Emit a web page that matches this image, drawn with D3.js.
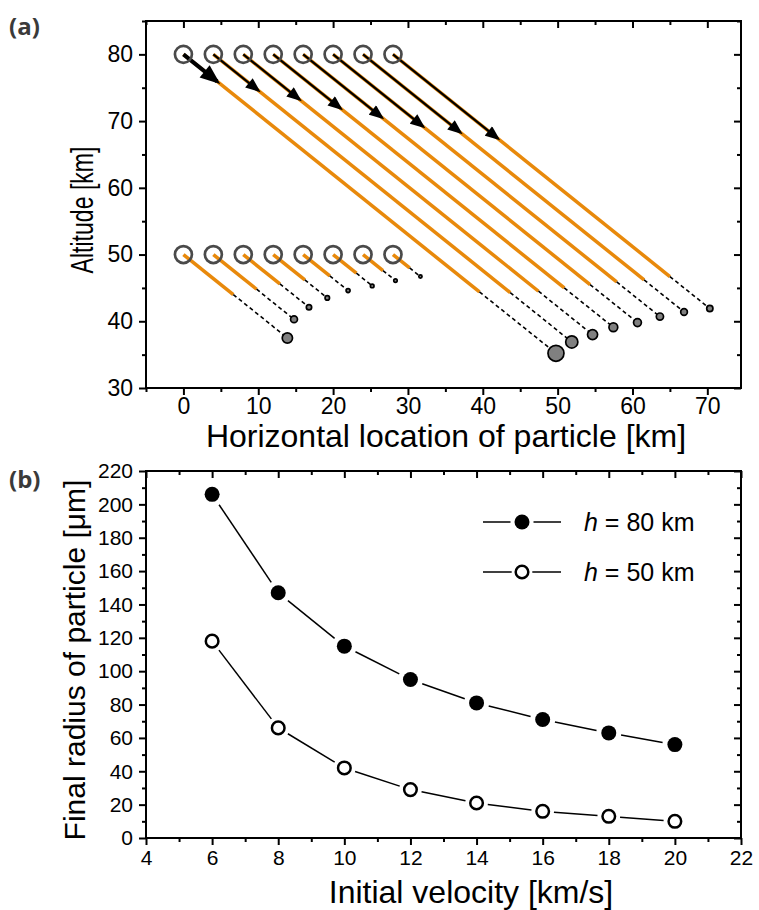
<!DOCTYPE html>
<html>
<head>
<meta charset="utf-8">
<script src="https://cdn.jsdelivr.net/npm/d3@7"></script>
<style>
body{margin:0;background:#fff;}
text{font-family:"Liberation Sans",Arial,sans-serif;fill:#000;}
</style>
</head>
<body>
<div id="chart"></div>
<script>
// panel (a): particle start positions [km] and entry velocities [km/s]
let start_x=[0,4,8,12,16,20,24,28];
let velocity=[6,8,10,12,14,16,18,20];
// horizontal length of the velocity arrows [km]
let arrow_len=[4.5,6.0,7.5,9.0,10.5,12.0,13.0,14.0];
// altitude where the orange part ends and where the particle stops [km]
let burn_end_80=[44.4,44.3,44.5,45.0,45.5,45.9,46.2,46.7];
let final_alt_80=[35.2,36.9,38.0,39.1,39.8,40.7,41.4,41.9];
let burn_end_50=[44.0,44.8,45.6,46.2,46.8,47.2,47.6,48.0];
let final_alt_50=[37.5,40.3,42.1,43.5,44.6,45.3,46.1,46.7];
let descent=0.9; // km of altitude lost per km horizontal
let start_alts=[80,50];

// panel (b): final radius [um]
let radius_80=[206,147,115,95,81,71,63,56];
let radius_50=[118,66,42,29,21,16,13,10];

let xticks_a=[0,10,20,30,40,50,60,70];
let yticks_a=[30,40,50,60,70,80];
let xticks_b=[4,6,8,10,12,14,16,18,20,22];
let yticks_b=[0,20,40,60,80,100,120,140,160,180,200,220];

let orange="#e8890b";

let svg=d3.select('#chart').append('svg')
    .attr('width',759).attr('height',910);

let defs=svg.append('defs');
function addHead(id,w,h){
    defs.append('marker')
        .attr('id',id)
        .attr('viewBox','0 0 10 8')
        .attr('refX',8).attr('refY',4)
        .attr('markerUnits','userSpaceOnUse')
        .attr('markerWidth',w).attr('markerHeight',h)
        .attr('orient','auto')
        .append('path').attr('d','M0,0L10,4L0,8z').attr('fill','#000');
}
addHead('head',16,12);
addHead('head_big',21,16);

function drawFrame(x,y,opt){
    let g=svg.append('g');
    let [x0,x1]=x.range(), [y0,y1]=y.range();
    // outer ticks on bottom/left, inner ticks on top/right
    let ax=[
        {gen:d3.axisBottom(x),tr:`translate(0,${y0})`,lab:true,dir:'x'},
        {gen:d3.axisBottom(x),tr:`translate(0,${y1})`,lab:false,dir:'x'},
        {gen:d3.axisLeft(y),tr:`translate(${x0},0)`,lab:true,dir:'y'},
        {gen:d3.axisLeft(y),tr:`translate(${x1},0)`,lab:false,dir:'y'}
    ];
    ax.forEach(function(a){
        let major=a.dir=='x'?opt.xt:opt.yt;
        let minor=a.dir=='x'?opt.xm:opt.ym;
        let gm=g.append('g').attr('transform',a.tr)
            .call(a.gen.tickValues(minor).tickSize(4).tickSizeOuter(0).tickFormat(''));
        gm.select('.domain').remove();
        gm.selectAll('line').attr('stroke-width',2);
        let gM=g.append('g').attr('transform',a.tr)
            .call(a.gen.tickValues(major).tickSize(7).tickSizeOuter(0)
                .tickPadding(a.dir=='x'?opt.xpad:6)
                .tickFormat(a.lab?d3.format('d'):''));
        gM.select('.domain').remove();
        gM.selectAll('line').attr('stroke-width',2);
        gM.selectAll('text').style('font-size',opt.fs+'px')
            .style('font-family','"Liberation Sans",Arial,sans-serif');
    });
    g.append('rect')
        .attr('x',x0).attr('y',y1)
        .attr('width',x1-x0).attr('height',y0-y1)
        .attr('fill','none').attr('stroke','#000').attr('stroke-width',2);
    return g;
}

function range(a,b,s){let r=[];for(let v=a;v<=b+1e-9;v+=s)r.push(v);return r;}

// ---------------- panel (a)
let xa=d3.scaleLinear().domain([-5,74.5]).range([146,741]);
let ya=d3.scaleLinear().domain([30,85]).range([388,21]);
let dot_r=d3.scaleLinear().domain([0,206]).range([1.3,8]);

drawFrame(xa,ya,{xt:xticks_a,yt:yticks_a,xm:range(-5,74,5).filter(d=>d%10!=0),
    ym:range(35,85,10),fs:23,xpad:3});

let traj=svg.append('g');

start_alts.forEach(function(h){
    let burn=h==80?burn_end_80:burn_end_50;
    let fin=h==80?final_alt_80:final_alt_50;
    let rad=h==80?radius_80:radius_50;
    let parts=start_x.map(function(x0,i){
        return {x0:x0,h:h,
            bx:x0+(h-burn[i])/descent,b:burn[i],
            fx:x0+(h-fin[i])/descent,f:fin[i],
            r:rad[i],a:arrow_len[i],i:i};
    });

    traj.selectAll('.orange'+h).data(parts).enter().append('line')
        .attr('x1',d=>xa(d.x0)).attr('y1',d=>ya(d.h))
        .attr('x2',d=>xa(d.bx)).attr('y2',d=>ya(d.b))
        .attr('stroke',orange).attr('stroke-width',3.5);

    traj.selectAll('.dash'+h).data(parts).enter().append('line')
        .attr('x1',d=>xa(d.bx)).attr('y1',d=>ya(d.b))
        .attr('x2',d=>xa(d.fx)).attr('y2',d=>ya(d.f))
        .attr('stroke','#000').attr('stroke-width',1.6)
        .attr('stroke-dasharray','4,3');

    if (h==80){
        traj.selectAll('.arrow').data(parts).enter().append('line')
            .attr('x1',d=>xa(d.x0)).attr('y1',d=>ya(d.h))
            .attr('x2',d=>xa(d.x0+d.a)).attr('y2',d=>ya(d.h-descent*d.a))
            .attr('stroke','#000')
            .attr('stroke-width',d=>d.i==0?4:2.2)
            .attr('marker-end',d=>d.i==0?'url(#head_big)':'url(#head)');
    }

    traj.selectAll('.start'+h).data(parts).enter().append('circle')
        .attr('cx',d=>xa(d.x0)).attr('cy',d=>ya(d.h))
        .attr('r',8.5)
        .attr('fill','none').attr('stroke','#4a4a4a').attr('stroke-width',2.7);

    traj.selectAll('.end'+h).data(parts).enter().append('circle')
        .attr('cx',d=>xa(d.fx)).attr('cy',d=>ya(d.f))
        .attr('r',d=>dot_r(d.r))
        .attr('fill','#808080').attr('stroke','#000').attr('stroke-width',1.7);
});

svg.append('text').attr('x',446).attr('y',447)
    .attr('text-anchor','middle').style('font-size','32px')
    .text('Horizontal location of particle [km]');
svg.append('text')
    .attr('transform','translate(93,210) rotate(-90)')
    .attr('text-anchor','middle').style('font-size','31px')
    .attr('textLength',127).attr('lengthAdjust','spacingAndGlyphs')
    .text('Altitude [km]');

// ---------------- panel (b)
let xb=d3.scaleLinear().domain([4,22]).range([146,741]);
let yb=d3.scaleLinear().domain([0,220]).range([838,471]);

drawFrame(xb,yb,{xt:xticks_b,yt:yticks_b,xm:range(5,21,2),ym:range(10,210,20),fs:21,xpad:5});

let series=[
    {vals:radius_80,fill:'#000',r:7.5,sw:0,label:'80'},
    {vals:radius_50,fill:'#fff',r:6.3,sw:2.5,label:'50'}
];

function gapSegments(pts,gap){
    let segs=[];
    for(let i=0;i<pts.length-1;i++){
        let p=pts[i],q=pts[i+1];
        let dx=q[0]-p[0],dy=q[1]-p[1],L=Math.sqrt(dx*dx+dy*dy);
        if (L<=2*gap) continue;
        segs.push([[p[0]+dx/L*gap,p[1]+dy/L*gap],[q[0]-dx/L*gap,q[1]-dy/L*gap]]);
    }
    return segs;
}

let plot_b=svg.append('g');
series.forEach(function(s){
    let pts=velocity.map((v,i)=>[xb(v),yb(s.vals[i])]);
    plot_b.selectAll(null).data(gapSegments(pts,s.r+5)).enter().append('line')
        .attr('x1',d=>d[0][0]).attr('y1',d=>d[0][1])
        .attr('x2',d=>d[1][0]).attr('y2',d=>d[1][1])
        .attr('stroke','#000').attr('stroke-width',1.5);
    plot_b.selectAll(null).data(pts).enter().append('circle')
        .attr('cx',d=>d[0]).attr('cy',d=>d[1]).attr('r',s.r)
        .attr('fill',s.fill).attr('stroke','#000').attr('stroke-width',s.sw);
});

// legend
let leg=svg.append('g');
series.forEach(function(s,i){
    let ly=522+i*50;
    leg.append('line').attr('x1',483).attr('x2',522-s.r-4).attr('y1',ly).attr('y2',ly)
        .attr('stroke','#000').attr('stroke-width',1.5);
    leg.append('line').attr('x1',522+s.r+4).attr('x2',561).attr('y1',ly).attr('y2',ly)
        .attr('stroke','#000').attr('stroke-width',1.5);
    leg.append('circle').attr('cx',522).attr('cy',ly).attr('r',s.r)
        .attr('fill',s.fill).attr('stroke','#000').attr('stroke-width',s.sw);
    let t=leg.append('text').attr('x',584).attr('y',ly+9).style('font-size','25px');
    t.append('tspan').style('font-style','italic').text('h');
    t.append('tspan').text(' = '+s.label+' km');
});

svg.append('text').attr('x',471).attr('y',903)
    .attr('text-anchor','middle').style('font-size','32px')
    .text('Initial velocity [km/s]');
svg.append('text')
    .attr('transform','translate(85,660) rotate(-90)')
    .attr('text-anchor','middle').style('font-size','30px')
    .text('Final radius of particle [\u03bcm]');

// panel letters
svg.append('text').attr('x',9).attr('y',35)
    .style('font-family','"Open Sans",sans-serif').style('font-weight','bold')
    .style('font-size','24px').style('fill','#3a3a3a').text('(a)');
svg.append('text').attr('x',9).attr('y',488)
    .style('font-family','"Open Sans",sans-serif').style('font-weight','bold')
    .style('font-size','24px').style('fill','#3a3a3a').text('(b)');
</script>
</body>
</html>
